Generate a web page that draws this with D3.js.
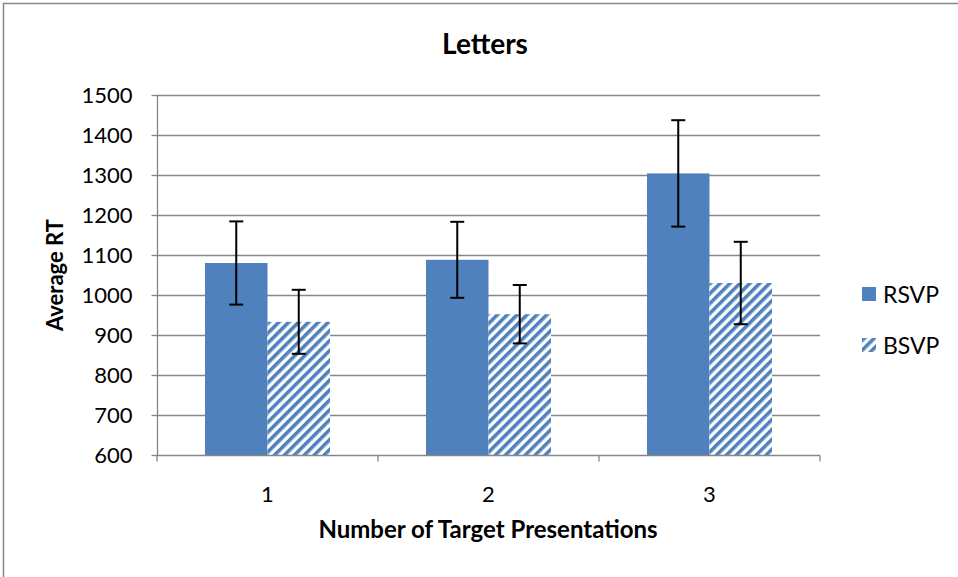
<!DOCTYPE html>
<html>
<head>
<meta charset="utf-8">
<script src="https://cdn.jsdelivr.net/npm/d3@7"></script>
<style>
  body { margin: 0; background: #fff; }
  text { font-family: Lato, "Open Sans", sans-serif; fill: #000; }
</style>
</head>
<body>
<svg id="chart" width="958" height="577"></svg>
<script>
const categories = ['1', '2', '3'];
const seriesNames = ['RSVP', 'BSVP'];
const rsvpValues = [1080, 1088, 1304];
const bsvpValues = [933, 952, 1030];
const rsvpErrors = [104, 95, 133];
const bsvpErrors = [80, 73, 103];
const yTicks = [600, 700, 800, 900, 1000, 1100, 1200, 1300, 1400, 1500];

const margin = { top: 95, right: 138, bottom: 122, left: 157 };
const width = 958 - margin.left - margin.right;
const height = 577 - margin.top - margin.bottom;
const blue = '#4F81BD';

const svg = d3.select('#chart');

// chart frame
svg.append('rect')
    .attr('x', 3.5).attr('y', 3.5)
    .attr('width', 970).attr('height', 590)
    .attr('fill', 'none')
    .attr('stroke', '#868686')
    .attr('stroke-width', 1.5);

// hatch pattern for BSVP
const defs = svg.append('defs');
const pat = defs.append('pattern')
    .attr('id', 'hatch')
    .attr('patternUnits', 'userSpaceOnUse')
    .attr('width', 7).attr('height', 7)
    .attr('patternTransform', 'rotate(45)');
pat.append('rect').attr('width', 7).attr('height', 7).attr('fill', '#fff');
pat.append('rect').attr('width', 3.6).attr('height', 7).attr('fill', blue);

const g = svg.append('g')
    .attr('transform', `translate(${margin.left},${margin.top})`);

const x0 = d3.scaleBand().domain(categories).range([0, width]).paddingInner(0).paddingOuter(0);
const x1 = d3.scaleBand().domain(seriesNames).range([48, x0.bandwidth() - 48]);
const y = d3.scaleLinear().domain([600, 1500]).range([height, 0]);

// gridlines
g.selectAll('.grid')
    .data(yTicks.slice(1))
    .enter().append('line')
    .attr('x1', 0).attr('x2', width)
    .attr('y1', d => Math.round(y(d)) + 0.5).attr('y2', d => Math.round(y(d)) + 0.5)
    .attr('stroke', '#868686')
    .attr('stroke-width', 1.3);

// y axis
const yAxis = g.append('g')
    .attr('transform', 'translate(0.5,0)')
    .call(d3.axisLeft(y).tickValues(yTicks).tickFormat(d3.format('d')).tickSize(6).tickPadding(19));
yAxis.selectAll('line').attr('stroke', '#868686').attr('stroke-width', 1.3);
yAxis.select('.domain').attr('stroke', '#868686').attr('stroke-width', 1.3).attr('d', `M0,0V${height}`);
yAxis.selectAll('line').attr('x2', -6);
yAxis.selectAll('text').style('font-size', '22px').style('font-family', 'Lato, sans-serif');

// bars
const rows = categories.map((c, i) => ({
    cat: c,
    vals: [
        { key: 'RSVP', v: rsvpValues[i], e: rsvpErrors[i] },
        { key: 'BSVP', v: bsvpValues[i], e: bsvpErrors[i] }
    ]
}));

const groups = g.selectAll('.grp')
    .data(rows)
    .enter().append('g')
    .attr('transform', d => `translate(${x0(d.cat)},0)`);

groups.selectAll('rect')
    .data(d => d.vals)
    .enter().append('rect')
    .attr('x', d => x1(d.key))
    .attr('width', x1.bandwidth())
    .attr('y', d => y(d.v))
    .attr('height', d => height - y(d.v))
    .attr('fill', d => d.key === 'RSVP' ? blue : 'url(#hatch)');

// error bars
const err = groups.selectAll('.err')
    .data(d => d.vals)
    .enter().append('g')
    .attr('transform', d => `translate(${x1(d.key) + x1.bandwidth() / 2},0)`);
err.append('line')
    .attr('y1', d => y(d.v + d.e)).attr('y2', d => y(d.v - d.e))
    .attr('stroke', '#000').attr('stroke-width', 2);
err.append('line')
    .attr('x1', -7).attr('x2', 7)
    .attr('y1', d => y(d.v + d.e)).attr('y2', d => y(d.v + d.e))
    .attr('stroke', '#000').attr('stroke-width', 2);
err.append('line')
    .attr('x1', -7).attr('x2', 7)
    .attr('y1', d => y(d.v - d.e)).attr('y2', d => y(d.v - d.e))
    .attr('stroke', '#000').attr('stroke-width', 2);

// x axis
const xAxisG = g.append('g').attr('transform', `translate(0,${height + 0.5})`);
xAxisG.append('line')
    .attr('x1', 0).attr('x2', width)
    .attr('stroke', '#868686').attr('stroke-width', 1.3);
xAxisG.selectAll('.tick')
    .data(categories.concat(['end']))
    .enter().append('line')
    .attr('x1', (d, i) => i * x0.bandwidth()).attr('x2', (d, i) => i * x0.bandwidth())
    .attr('y1', 0).attr('y2', 6)
    .attr('stroke', '#868686').attr('stroke-width', 1.3);
xAxisG.selectAll('.lbl')
    .data(categories)
    .enter().append('text')
    .attr('x', d => x0(d) + x0.bandwidth() / 2)
    .attr('y', 46)
    .attr('text-anchor', 'middle')
    .style('font-size', '22px')
    .text(d => d);

// titles
svg.append('text')
    .attr('x', 485).attr('y', 54)
    .attr('text-anchor', 'middle')
    .style('font-size', '28px').style('font-weight', 'bold')
    .text('Letters');

svg.append('text')
    .attr('x', 488).attr('y', 538)
    .attr('text-anchor', 'middle')
    .style('font-size', '24px').style('font-weight', 'bold')
    .text('Number of Target Presentations');

svg.append('text')
    .attr('transform', 'translate(63,275) rotate(-90)')
    .attr('text-anchor', 'middle')
    .style('font-size', '22px').style('font-weight', 'bold')
    .text('Average RT');

// legend
const legend = svg.append('g').attr('transform', 'translate(862,287)');
seriesNames.forEach((s, i) => {
    const lg = legend.append('g').attr('transform', `translate(0,${i * 51})`);
    lg.append('rect')
        .attr('width', 14).attr('height', 14)
        .attr('fill', s === 'RSVP' ? blue : 'url(#hatch)');
    lg.append('text')
        .attr('x', 21).attr('y', 16)
        .style('font-size', '23px')
        .text(s);
});
</script>
</body>
</html>
